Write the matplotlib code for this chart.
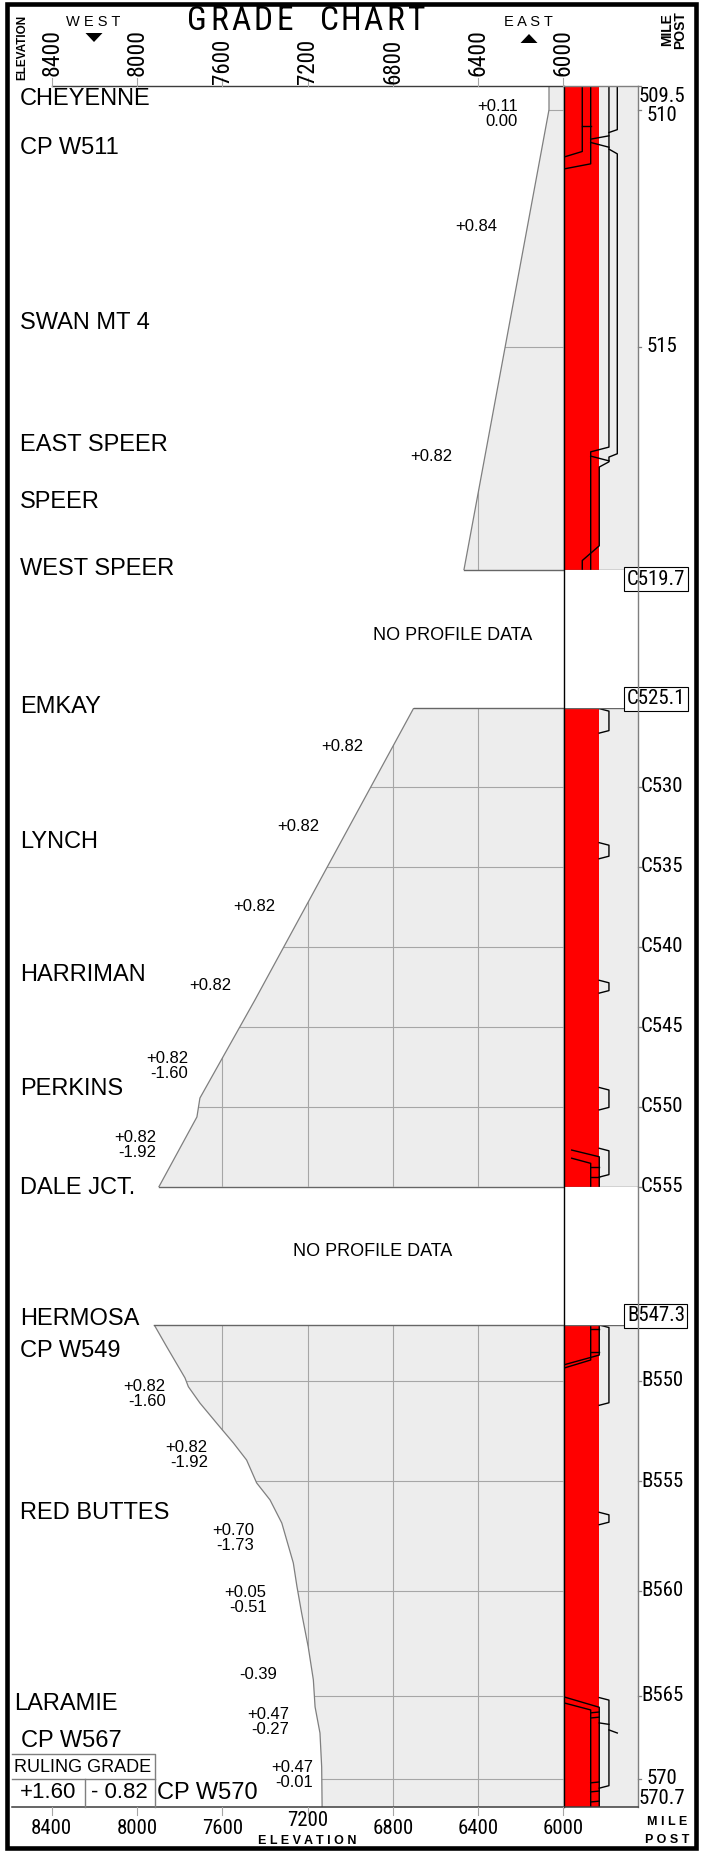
import matplotlib
matplotlib.use("Agg")
import matplotlib.pyplot as plt
from matplotlib import font_manager
from matplotlib.patches import Polygon, Rectangle
from matplotlib.transforms import blended_transform_factory as blend

W, H = 702, 1852
SANS = ["Liberation Sans", "DejaVu Sans"]
BOLD = dict(family=SANS, fontweight="bold")

# condensed face for the scale numbers; size factor relative to Roboto Condensed
NARROW_PREFS = [("Roboto Condensed", 1.0), ("Archivo Narrow", 1.0), ("Liberation Sans Narrow", 1.08),
                ("PT Sans Narrow", 1.1), ("Liberation Sans", 0.9)]
_names = {f.name for f in font_manager.fontManager.ttflist}
NARROW_NAME, NS = next((n, s) for n, s in NARROW_PREFS if n in _names or n == "Liberation Sans")
NARROW = [NARROW_NAME, "Liberation Sans", "DejaVu Sans"]

RED, FILL, GRID, EDGE, DARK = "#ff0000", "#ededed", "#a6a6a6", "#7f7f7f", "#3c3c3c"

# elevation scale (ft); 6000 ft sits on the left edge of the red track column
elev_ticks = [8400, 8000, 7600, 7200, 6800, 6400, 6000]
top_low = [7600, 7200, 6800]      # top labels pushed down under the title
bottom_high = [7200]              # bottom label lifted above "ELEVATION"

# segment 1: Cheyenne - West Speer (y = milepost)
s1_pos = [509.5, 510.0, 519.7]
s1_elev = [6068, 6068, 6467]
s1_ticks = [509.5, 510, 515]
s1_tick_labels = ["509.5", "510", "515"]
s1_stations = ["CHEYENNE", "CP W511", "SWAN MT 4", "EAST SPEER", "SPEER", "WEST SPEER"]
s1_station_pos = [509.77, 510.8, 514.5, 517.07, 518.27, 519.68]
s1_grades = ["+0.11\n0.00", "+0.84", "+0.82"]
s1_grade_pos = [510.09, 512.47, 517.3]
s1_grade_elev = [6213, 6312, 6523]
s1_sidings = []
s1_tracks = [
    [(2.52, 509.5), (2.52, 510.88), (0.0, 511.0)],
    [(3.65, 509.5), (3.65, 511.14), (0.0, 511.25)],
    [(2.52, 510.34), (3.65, 510.34)],
    [(6.1, 509.5), (6.1, 517.11), (3.65, 517.21), (3.65, 519.7)],
    [(7.22, 509.5), (7.22, 510.42), (6.1, 510.48)],
    [(3.65, 510.62), (6.1, 510.55)],
    [(3.65, 510.69), (6.1, 510.79)],
    [(6.1, 510.83), (7.22, 510.93), (7.22, 517.25), (6.1, 517.32), (6.1, 517.42),
     (4.8, 517.53), (4.8, 519.19), (2.52, 519.5), (2.52, 519.7)],
    [(3.65, 517.3), (6.1, 517.4)],
]

# segment 2: Emkay - Dale Jct. (y = milepost, C line)
s2_pos = [525.1, 543.33, 549.46, 550.64, 555.0]
s2_elev = [6703, 7447, 7705, 7719, 7897]
s2_ticks = [530, 535, 540, 545, 550, 555]
s2_tick_labels = ["C530", "C535", "C540", "C545", "C550", "C555"]
s2_stations = ["EMKAY", "LYNCH", "HARRIMAN", "PERKINS", "DALE JCT."]
s2_station_pos = [525.0, 533.45, 541.8, 548.9, 555.1]
s2_grades = ["+0.82", "+0.82", "+0.82", "+0.82", "+0.82\n-1.60", "+0.82\n-1.92"]
s2_grade_pos = [527.46, 532.46, 537.46, 542.4, 547.46, 552.4]
s2_grade_elev = [6940, 7147, 7353, 7559, 7761, 7911]
s2_sidings = [(525.12, 526.65), (533.5, 534.5), (542.1, 542.9), (548.8, 550.2), (552.6, 554.4)]
s2_tracks = [
    [(1.1, 552.71), (4.8, 553.13), (4.8, 555.0)],
    [(1.1, 553.22), (3.65, 553.54), (3.65, 555.0)],
    [(3.65, 553.75), (4.8, 553.75)],
    [(3.65, 554.37), (4.8, 554.37)],
]

# segment 3: Hermosa - CP W570 (y = chart miles from Hermosa, B line)
s3_pos = [0, 1.05, 2.57, 3.0, 3.79, 4.86, 5.73, 6.56, 7.67, 8.5, 9.62, 11.56, 12.7,
          13.99, 15.64, 17.24, 18.55, 19.82, 21.47, 23.4]
s3_elev = [7919, 7861, 7775, 7759, 7705, 7619, 7548, 7486, 7439, 7376, 7321, 7267, 7250,
           7228, 7197, 7173, 7165, 7142, 7134, 7132]
s3_ticks = [2.72, 7.6, 12.92, 18.0, 22.05]
s3_tick_labels = ["B550", "B555", "B560", "B565", "570"]
s3_stations = ["HERMOSA", "CP W549", "RED BUTTES", "LARAMIE", "CP W567", "CP W570"]
s3_station_pos = [-0.3, 1.26, 9.13, 18.4, 20.2, 22.75]
s3_station_x = [20, 20, 20, 14, 21, 157]
s3_grades = ["+0.82\n-1.60", "+0.82\n-1.92", "+0.70\n-1.73", "+0.05\n-0.51", "-0.39",
             "+0.47\n-0.27", "+0.47\n-0.01"]
s3_grade_pos = [3.33, 6.31, 10.37, 13.38, 17.0, 19.28, 21.88]
s3_grade_elev = [7865, 7668, 7451, 7392, 7345, 7286, 7173]
s3_sidings = [(0.0, 3.9), (9.1, 9.7), (18.1, 22.5)]
s3_tracks = [
    [(3.65, 0.0), (3.65, 1.7), (0.0, 2.1)],
    [(4.8, 0.0), (4.8, 1.46), (0.0, 1.94)],
    [(3.65, 0.21), (4.8, 0.21)],
    [(3.65, 1.3), (4.8, 1.3)],
    [(0.2, 18.08), (4.8, 18.57), (4.8, 23.4)],
    [(0.2, 18.37), (3.65, 18.7), (3.65, 23.4)],
    [(3.65, 18.84), (4.8, 18.8)], [(3.65, 19.09), (4.8, 19.05)],
    [(3.65, 22.24), (4.8, 22.2)], [(3.65, 22.68), (4.8, 22.64)], [(3.65, 23.17), (4.8, 23.13)],
    [(4.8, 19.33), (6.1, 19.4)], [(6.1, 19.67), (7.22, 19.82)],
]

boxed = [("C519.7", 1, "bottom"), ("C525.1", 2, "top"), ("B547.3", 3, "top")]
title = "GRADE CHART"

# ---- layout (pixels) ----
X_LEFT, X_6000, X_COL = 12, 563.5, 638
PX_PER_FT = 85.3 / 400
E_LEFT = 6000 + (X_6000 - X_LEFT) / PX_PER_FT
Y_TOP, Y_BOT = 86, 1806.7
MP_X = 13.25         # milepost label centre, track units (7.45 px each)
MP_SIZE = 15 * NS


def rect(x0, y0, x1, y1):
    return [x0 / W, 1 - y1 / H, (x1 - x0) / W, (y1 - y0) / H]


plt.rcParams["font.family"] = SANS
fig = plt.figure(figsize=(W / 100, H / 100), dpi=100)

segments = [
    dict(px=(Y_TOP, 570.0), pos=s1_pos, elev=s1_elev, ticks=s1_ticks, labels=s1_tick_labels,
         st=s1_stations, st_pos=s1_station_pos, st_x=[20] * 6, gr=s1_grades, gr_pos=s1_grade_pos,
         gr_elev=s1_grade_elev, sid=s1_sidings, trk=s1_tracks, edges=(False, True)),
    dict(px=(708.3, 1186.7), pos=s2_pos, elev=s2_elev, ticks=s2_ticks, labels=s2_tick_labels,
         st=s2_stations, st_pos=s2_station_pos, st_x=[20] * 5, gr=s2_grades, gr_pos=s2_grade_pos,
         gr_elev=s2_grade_elev, sid=s2_sidings, trk=s2_tracks, edges=(True, True)),
    dict(px=(1325.0, Y_BOT), pos=s3_pos, elev=s3_elev, ticks=s3_ticks, labels=s3_tick_labels,
         st=s3_stations, st_pos=s3_station_pos, st_x=s3_station_x, gr=s3_grades, gr_pos=s3_grade_pos,
         gr_elev=s3_grade_elev, sid=s3_sidings, trk=s3_tracks, edges=(True, False)),
]

prof_axes, track_axes = [], []
for seg in segments:
    y0, y1 = seg["px"]
    lo, hi = seg["pos"][0], seg["pos"][-1]
    ax = fig.add_axes(rect(X_LEFT, y0, X_6000, y1))
    ax.set_xlim(E_LEFT, 6000)
    ax.set_ylim(hi, lo)
    ax.axis("off")
    verts = [(6000, lo)] + list(zip(seg["elev"], seg["pos"])) + [(6000, hi)]
    poly = Polygon(verts, closed=True, fc=FILL, ec="none", zorder=0)
    ax.add_patch(poly)
    for e in elev_ticks:
        ax.axvline(e, color=GRID, lw=0.8, zorder=1).set_clip_path(poly)
    for t in seg["ticks"]:
        ax.axhline(t, color=GRID, lw=0.8, zorder=1).set_clip_path(poly)
    ax.plot(seg["elev"], seg["pos"], color=EDGE, lw=0.9, zorder=2)
    if seg["edges"][0]:
        ax.plot([seg["elev"][0], 6000], [lo, lo], color="#666666", lw=1.0, clip_on=False, zorder=2)
    if seg["edges"][1]:
        ax.plot([seg["elev"][-1], 6000], [hi, hi], color="#666666", lw=1.0, clip_on=False, zorder=2)
    for g, p, e in zip(seg["gr"], seg["gr_pos"], seg["gr_elev"]):
        ax.text(e, p, g, ha="right", va="center", fontsize=12, linespacing=1.0, zorder=3)
    prof_axes.append(ax)

    tx = fig.add_axes(rect(X_6000, y0, X_COL, y1))
    tx.set_xlim(0, 10)
    tx.set_ylim(hi, lo)
    tx.axis("off")
    tx.axvspan(0, 4.8, color=RED, lw=0, zorder=0)
    tx.axvspan(4.8, 10, color=FILL, lw=0, zorder=0)
    k = 2.5 * (hi - lo) / (y1 - y0)          # 2.5 px slant on siding ends
    for a, b in seg["sid"]:
        tx.plot([4.8, 6.1, 6.1, 4.8], [a, a + k, b - k, b], color="black", lw=1.0, zorder=2)
    for line in seg["trk"]:
        xs, ys = zip(*line)
        tx.plot(xs, ys, color="black", lw=1.0, zorder=2)
    for edge_on, val in zip(seg["edges"], (lo, hi)):
        if edge_on:
            tx.plot([0, 10], [val, val], color="#666666", lw=1.0, zorder=3)
    for t, lab in zip(seg["ticks"], seg["labels"]):
        tx.plot([10, 10.4], [t, t], color=EDGE, lw=0.9, clip_on=False)
        va, dy = "center", 0
        if t == lo:
            va, dy = "top", -1
        elif lab == "510":
            dy = -4.5
        tx.annotate(lab, (MP_X, t), xytext=(0, dy), textcoords="offset points", ha="center",
                    va=va, fontsize=MP_SIZE, family=NARROW, annotation_clip=False)
    track_axes.append(tx)

# ---- overlay: frame, header, footer, labels ----
fg = fig.add_axes([0, 0, 1, 1])
fg.set_xlim(0, W)
fg.set_ylim(H, 0)
fg.axis("off")
fg.patch.set_alpha(0)

xs_elev = blend(prof_axes[0].transData, fg.transData)

# long column edges
fg.plot([X_6000, X_6000], [Y_TOP, Y_BOT], color="black", lw=1.0)
fg.plot([X_COL, X_COL], [Y_TOP, Y_BOT], color=EDGE, lw=1.0)

# top elevation scale
fg.plot([8400, 6000], [Y_TOP, Y_TOP], color=DARK, lw=1.0, transform=xs_elev)
fg.plot([X_6000, X_COL], [Y_TOP, Y_TOP], color=EDGE, lw=1.0)
for e in elev_ticks:
    fg.plot([e, e], [78, Y_TOP], color=GRID, lw=0.8, transform=xs_elev)
    fg.text(e, 84 if e in top_low else 76, f"{e}", rotation=90, ha="center", va="bottom",
            fontsize=(16.5 if e in top_low else 17) * NS, family=NARROW, transform=xs_elev)

# bottom elevation scale
fg.plot([X_LEFT, X_COL], [Y_BOT, Y_BOT], color=DARK, lw=1.1)
for e in elev_ticks:
    fg.plot([e, e], [Y_BOT, 1815], color=GRID, lw=0.8, transform=xs_elev)
    fg.text(e, 1820 if e in bottom_high else 1828, f"{e}", ha="center", va="center",
            fontsize=15 * NS, family=NARROW, transform=xs_elev)
fg.text(7200, 1841, "E L E V A T I O N", ha="center", va="center", fontsize=9,
        transform=xs_elev, **BOLD)
fg.text(667, 1822, "M I L E", ha="center", va="center", fontsize=9, **BOLD)
fg.text(667, 1840, "P O S T", ha="center", va="center", fontsize=9, **BOLD)

# header: spaced title, one letter per slot
slot = 242 / len(title)
for i, ch in enumerate(title):
    if ch != " ":
        fg.text(186 + slot * (i + 0.5), 21.5, ch, ha="center", va="center",
                fontsize=24 * NS, family=NARROW)
fg.text(22, 47, "ELEVATION", rotation=90, ha="center", va="center", fontsize=8.5, **BOLD)
fg.text(93, 22, "W E S T", ha="center", va="center", fontsize=10.5)
fg.add_patch(Polygon([(85.5, 33), (102.5, 33), (94, 42)], closed=True, fc="black", ec="none"))
fg.text(528, 22, "E A S T", ha="center", va="center", fontsize=10.5)
fg.add_patch(Polygon([(520.5, 43), (537.5, 43), (529, 34)], closed=True, fc="black", ec="none"))
fg.text(667, 30, "MILE", rotation=90, ha="center", va="center", fontsize=10, **BOLD)
fg.text(680, 30, "POST", rotation=90, ha="center", va="center", fontsize=10, **BOLD)

# station names
for seg, ax in zip(segments, prof_axes):
    tr = blend(fg.transData, ax.transData)
    for name, p, x in zip(seg["st"], seg["st_pos"], seg["st_x"]):
        fg.text(x, p, name, ha="left", va="center", fontsize=17, transform=tr)

# boxed mileposts at the breaks
for lab, si, va in boxed:
    seg, tx = segments[si - 1], track_axes[si - 1]
    p = seg["pos"][-1] if va == "bottom" else seg["pos"][0]
    tx.annotate(lab, (12.4, p), xytext=(0, 0), textcoords="offset points",
                ha="center", va="top" if va == "bottom" else "bottom",
                fontsize=MP_SIZE, family=NARROW, annotation_clip=False, zorder=5,
                bbox=dict(boxstyle="square,pad=0.12", fc="white", ec="black", lw=0.8))

# gaps without profile
gap_px = [(570.0, 708.3), (1186.7, 1325.0)]
gap_text_elev = [6522, 6894]
for (g0, g1), e in zip(gap_px, gap_text_elev):
    fg.text(e, (g0 + g1) / 2 - 4, "NO PROFILE DATA", ha="center", va="center", fontsize=13,
            transform=xs_elev)

# last milepost
fg.text(MP_X * 7.45 + X_6000, Y_BOT + 1, "570.7", ha="center", va="bottom",
        fontsize=MP_SIZE, family=NARROW)

# ruling grade box
fg.plot([X_LEFT, 155, 155], [1754, 1754, Y_BOT], color=EDGE, lw=1.0)
fg.plot([X_LEFT, 155], [1779, 1779], color=EDGE, lw=1.0)
fg.plot([85, 85], [1779, Y_BOT], color=EDGE, lw=1.0)
fg.text(83, 1767, "RULING GRADE", ha="center", va="center", fontsize=13)
fg.text(48, 1793, "+1.60", ha="center", va="center", fontsize=16)
fg.text(119, 1793, "- 0.82", ha="center", va="center", fontsize=16)

# outer frame
fg.add_patch(Rectangle((6.5, 4.3), 689.0, 1843.4, fill=False, ec="black", lw=3.3))

fig.savefig("out.png", dpi=100)
